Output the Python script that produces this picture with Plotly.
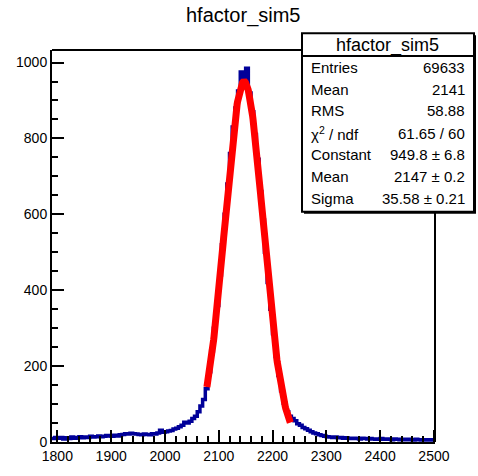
import numpy as np
import plotly.graph_objects as go

# ---- data ----
bin_start = 1790
bin_width = 5
counts = [
    9, 12, 10, 12, 8, 11, 9, 13, 10, 12,          # 1790-1835
    14, 11, 13, 12, 15, 13, 14, 16, 14, 15,       # 1840-1885
    17, 16, 15, 18, 16, 19, 20, 22, 21, 23,       # 1890-1935
    22, 21, 20, 19, 21, 20, 19, 22, 21, 24,       # 1940-1985
    31, 26, 27, 29, 30, 34, 36, 40, 44, 52,       # 1990-2035
    50, 55, 62, 68, 80, 95, 112, 140, 185, 240,   # 2040-2085
    300, 360, 440, 520, 600, 680, 760, 830, 880, 925,  # 2090-2135
    975, 950, 985, 920, 870, 810, 745, 660, 585, 500,  # 2140-2185
    420, 350, 285, 225, 175, 135, 102, 80, 68, 62,     # 2190-2235
    56, 48, 44, 38, 35, 31, 27, 24, 22, 19,       # 2240-2285
    17, 15, 14, 13, 12, 13, 11, 12, 10, 11,       # 2290-2335
    10, 9, 10, 9, 8, 10, 9, 8, 9, 8,              # 2340-2385
    7, 8, 9, 7, 8, 7, 6, 8, 7, 6,                 # 2390-2435
    7, 6, 7, 6, 5, 7, 6, 5, 6, 5,                 # 2440-2485
    6, 5,                                         # 2490-2495
]

fit_constant = 949.8
fit_mean = 2147.0
fit_sigma = 35.58
fit_range = [2078, 2233]

title_text = "hfactor_sim5"
stat_labels = ["Entries", "Mean", "RMS", "χ<sup>2</sup> / ndf", "Constant", "Mean", "Sigma"]
stat_values = ["69633", "2141", "58.88", "61.65 / 60", "949.8 ± 6.8", "2147 ± 0.2", "35.58 ± 0.21"]

x_range = [1790, 2502]
y_range = [0, 1033]

# ---- build ----
edges = bin_start + bin_width * np.arange(len(counts) + 1)
hx = list(edges)
hy = list(counts) + [counts[-1]]

fx = np.linspace(fit_range[0], fit_range[1], 200)
fy = fit_constant * np.exp(-0.5 * ((fx - fit_mean) / fit_sigma) ** 2)

fig = go.Figure()
fig.add_trace(go.Scatter(x=hx, y=hy, mode="lines", line=dict(shape="hv", color="#000099", width=3.5),
                         hoverinfo="skip", showlegend=False))
fig.add_trace(go.Scatter(x=fx, y=fy, mode="lines", line=dict(color="#ff0000", width=7),
                         hoverinfo="skip", showlegend=False))

L, R, T, B = 52, 435, 50, 450
W, H = 478, 476


def px(xp):
    return (xp - L) / (R - L)


def py(yp):
    return (B - yp) / (B - T)


font = "Liberation Sans, Arial, Helvetica, sans-serif"

fig.update_layout(
    width=W, height=H,
    margin=dict(l=L, r=W - R, t=T, b=H - B),
    paper_bgcolor="white", plot_bgcolor="white",
    font=dict(family=font, size=14, color="black"),
    xaxis=dict(range=x_range, showgrid=False, zeroline=False, showline=True, linecolor="black",
               linewidth=2, mirror=False, ticks="inside", ticklen=12, tickwidth=2, tickcolor="black",
               dtick=100, tick0=1800, tickfont=dict(size=14),
               minor=dict(dtick=20, tick0=1800, ticks="inside", ticklen=6, tickwidth=2,
                          tickcolor="black", showgrid=False)),
    yaxis=dict(range=y_range, showgrid=False, zeroline=False, showline=True, linecolor="black",
               linewidth=2, mirror=False, ticks="inside", ticklen=12, tickwidth=2, tickcolor="black",
               dtick=200, tick0=0, tickfont=dict(size=14),
               minor=dict(dtick=50, tick0=0, ticks="inside", ticklen=6, tickwidth=2,
                          tickcolor="black", showgrid=False)),
)

shapes = [
    # top and right frame edges
    dict(type="line", xref="paper", yref="paper", x0=0, x1=1, y0=1, y1=1,
         line=dict(color="black", width=2), layer="above"),
    dict(type="line", xref="paper", yref="paper", x0=1, x1=1, y0=0, y1=1,
         line=dict(color="black", width=2), layer="above"),
    # stats box with shadow
    dict(type="rect", xref="paper", yref="paper", x0=px(304), x1=px(476), y0=py(217), y1=py(35),
         fillcolor="black", line=dict(width=0), layer="above"),
    dict(type="rect", xref="paper", yref="paper", x0=px(302), x1=px(474), y0=py(215), y1=py(33),
         fillcolor="white", line=dict(color="black", width=2), layer="above"),
    dict(type="line", xref="paper", yref="paper", x0=px(302), x1=px(474), y0=py(56), y1=py(56),
         line=dict(color="black", width=2), layer="above"),
]
fig.update_layout(shapes=shapes)

annotations = [
    dict(text=title_text, xref="paper", yref="paper", x=px(244), y=py(15), xanchor="center",
         yanchor="middle", showarrow=False, font=dict(size=20)),
    dict(text=title_text, xref="paper", yref="paper", x=px(387), y=py(45), xanchor="center",
         yanchor="middle", showarrow=False, font=dict(size=18)),
]
row_y = [68, 90, 112, 135, 157, 179, 202]
for lab, val, yy in zip(stat_labels, stat_values, row_y):
    annotations.append(dict(text=lab, xref="paper", yref="paper", x=px(309), y=py(yy), xanchor="left",
                            yanchor="middle", showarrow=False, font=dict(size=15)))
    annotations.append(dict(text=val, xref="paper", yref="paper", x=px(467), y=py(yy), xanchor="right",
                            yanchor="middle", showarrow=False, font=dict(size=15)))
fig.update_layout(annotations=annotations)

fig.write_html("out.html")
